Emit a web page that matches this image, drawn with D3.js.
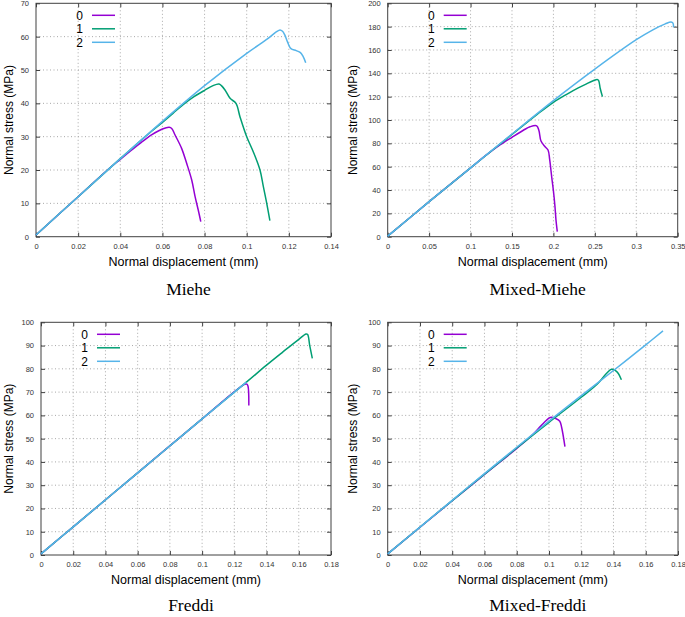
<!DOCTYPE html>
<html><head><meta charset="utf-8">
<script src="https://cdn.jsdelivr.net/npm/d3@7"></script>
<style>body{margin:0;background:#fff}svg{display:block}</style>
</head><body>
<svg id="c" width="685" height="617"></svg>
<script>
// ---- data ----
const seriesNames = ["0", "1", "2"];
const seriesColors = ["#9400d3", "#009e73", "#56b4e9"];

const mieheXTicks = [0, 0.02, 0.04, 0.06, 0.08, 0.1, 0.12, 0.14];
const mieheYTicks = [0, 10, 20, 30, 40, 50, 60, 70];
const miehe0 = [[0,0.5],[0.02,12],[0.035,20.6],[0.04,23.2],[0.045,25.8],[0.05,28.3],[0.055,30.6],[0.06,32.3],[0.0632,32.8],[0.0645,32.4],[0.066,30.5],[0.0691,26.5],[0.0715,22],[0.0739,17],[0.0755,12],[0.077,8],[0.0782,4.5]];
const miehe1 = [[0,0.5],[0.02,12],[0.04,23.4],[0.05,29],[0.055,31.7],[0.06,34.3],[0.065,37],[0.07,39.7],[0.075,42],[0.08,43.9],[0.084,45.3],[0.0868,45.8],[0.088,45.3],[0.0897,44],[0.0921,41.5],[0.0949,40],[0.0968,36],[0.1,30],[0.1031,25.5],[0.1063,20],[0.1079,15],[0.1095,10],[0.111,4.8]];
const miehe2 = [[0,0.5],[0.02,12],[0.04,23.4],[0.06,34.6],[0.08,45.3],[0.1,55],[0.11,59.4],[0.114,61.4],[0.1158,62],[0.117,61.6],[0.118,60.6],[0.1195,58.2],[0.121,56.4],[0.1235,55.8],[0.1255,55.2],[0.1268,54],[0.128,52.2]];

const mixMieheXTicks = [0, 0.05, 0.1, 0.15, 0.2, 0.25, 0.3, 0.35];
const mixMieheYTicks = [0, 20, 40, 60, 80, 100, 120, 140, 160, 180, 200];
const mixMiehe0 = [[0,0.5],[0.05,30],[0.1,59],[0.12,70.5],[0.1355,78.6],[0.15,85.2],[0.1637,91.2],[0.1718,94.2],[0.1798,95],[0.1825,91],[0.185,82],[0.1899,77.1],[0.1935,74.3],[0.1955,66],[0.1979,51.4],[0.1999,40],[0.2019,25.7],[0.2031,14.3],[0.2047,4.3]];
const mixMiehe1 = [[0,0.5],[0.05,30],[0.1,59],[0.15,87.6],[0.18,104.6],[0.2,115.2],[0.216,122],[0.23,127.5],[0.24,131],[0.248,133.6],[0.2528,134.8],[0.2545,134],[0.2565,127],[0.2592,120]];
const mixMiehe2 = [[0,0.5],[0.05,30],[0.1,59],[0.15,88],[0.2,116.6],[0.25,143.6],[0.3,168.8],[0.32,177.3],[0.335,182.4],[0.342,184],[0.3443,183],[0.345,179.5]];

const freddiXTicks = [0, 0.02, 0.04, 0.06, 0.08, 0.1, 0.12, 0.14, 0.16, 0.18];
const freddiYTicks = [0, 10, 20, 30, 40, 50, 60, 70, 80, 90, 100];
const freddi0 = [[0,0.5],[0.02,12.1],[0.06,35.3],[0.1,58.5],[0.1265,73.4],[0.1278,73.4],[0.1285,72.5],[0.129,64.2]];
const freddi1 = [[0,0.5],[0.02,12.1],[0.06,35.3],[0.1,58.5],[0.1275,74.3],[0.14,81.6],[0.15,87.2],[0.16,92.7],[0.1645,95],[0.1655,94.8],[0.1668,90],[0.1684,84.5]];
const freddi2 = [[0,0.5],[0.02,12.1],[0.06,35.3],[0.1,58.5],[0.1275,74.3]];

const mixFreddiXTicks = [0, 0.02, 0.04, 0.06, 0.08, 0.1, 0.12, 0.14, 0.16, 0.18];
const mixFreddiYTicks = [0, 10, 20, 30, 40, 50, 60, 70, 80, 90, 100];
const mixFreddi0 = [[0,0.5],[0.04,23.3],[0.06,34.6],[0.08,45.8],[0.09,51.8],[0.095,55.5],[0.1,58.8],[0.1015,59.2],[0.104,58.7],[0.1067,57.5],[0.1078,55],[0.1099,46.6]];
const mixFreddi1 = [[0,0.5],[0.04,23.4],[0.08,46],[0.1,57],[0.12,67.8],[0.13,73.5],[0.1356,78],[0.1387,79.8],[0.141,79.3],[0.143,78],[0.1449,75.3]];
const mixFreddi2 = [[0,0.5],[0.02,12],[0.04,23.5],[0.06,35],[0.08,46.3],[0.1,57.5],[0.12,68.5],[0.14,79.3],[0.16,90.3],[0.1707,96.3]];

const captions = ["Miehe", "Mixed-Miehe", "Freddi", "Mixed-Freddi"];
const xTitle = "Normal displacement (mm)";
const yTitle = "Normal stress (MPa)";

// ---- layout ----
const panels = [
  {box:[36,331,3.3,236.7], xt:mieheXTicks, yt:mieheYTicks, s:[miehe0,miehe1,miehe2], cap:captions[0], capY:295, yLabX:12.5},
  {box:[387.7,677.7,3.3,236.7], xt:mixMieheXTicks, yt:mixMieheYTicks, s:[mixMiehe0,mixMiehe1,mixMiehe2], cap:captions[1], capY:295, yLabX:357},
  {box:[41,331,322.3,555], xt:freddiXTicks, yt:freddiYTicks, s:[freddi0,freddi1,freddi2], cap:captions[2], capY:611, yLabX:12.5},
  {box:[387.7,678,322.3,555], xt:mixFreddiXTicks, yt:mixFreddiYTicks, s:[mixFreddi0,mixFreddi1,mixFreddi2], cap:captions[3], capY:611, yLabX:357}
];

const svg = d3.select("#c");
const axisColor = "#404040";

panels.forEach(p => {
  const [L,R,T,B] = p.box;
  const x = d3.scaleLinear().domain([p.xt[0], p.xt[p.xt.length-1]]).range([L,R]);
  const y = d3.scaleLinear().domain([p.yt[0], p.yt[p.yt.length-1]]).range([B,T]);
  const g = svg.append("g");

  // grid
  g.append("g").selectAll("line").data(p.xt.slice(1,-1)).join("line")
    .attr("x1", d=>x(d)).attr("x2", d=>x(d)).attr("y1", T).attr("y2", B)
    .attr("stroke","#a8a8a8").attr("stroke-width",1).attr("stroke-dasharray","1,2.5");
  g.append("g").selectAll("line").data(p.yt.slice(1,-1)).join("line")
    .attr("x1", L).attr("x2", R).attr("y1", d=>y(d)).attr("y2", d=>y(d))
    .attr("stroke","#a8a8a8").attr("stroke-width",1).attr("stroke-dasharray","1,2.5");

  // axes (ticks inward, mirrored)
  const fmt = d => String(d);
  const style = sel => {
    sel.select(".domain").remove();
    sel.selectAll(".tick line").attr("stroke", axisColor);
    sel.selectAll(".tick text").attr("fill","#333").style("font-family","'Liberation Sans', Arial, sans-serif").style("font-size","7.5px");
  };
  g.append("g").attr("transform",`translate(0,${B})`)
    .call(d3.axisBottom(x).tickValues(p.xt).tickFormat(fmt).tickSizeInner(-4).tickSizeOuter(0).tickPadding(7))
    .call(style);
  g.append("g").attr("transform",`translate(0,${T})`)
    .call(d3.axisTop(x).tickValues(p.xt).tickFormat("").tickSizeInner(-4).tickSizeOuter(0))
    .call(style);
  g.append("g").attr("transform",`translate(${L},0)`)
    .call(d3.axisLeft(y).tickValues(p.yt).tickFormat(fmt).tickSizeInner(-4).tickSizeOuter(0).tickPadding(7))
    .call(style);
  g.append("g").attr("transform",`translate(${R},0)`)
    .call(d3.axisRight(y).tickValues(p.yt).tickFormat("").tickSizeInner(-4).tickSizeOuter(0))
    .call(style);

  // frame
  g.append("rect").attr("x",L).attr("y",T).attr("width",R-L).attr("height",B-T)
    .attr("fill","none").attr("stroke",axisColor).attr("stroke-width",1);

  // curves
  const line = d3.line().x(d=>x(d[0])).y(d=>y(d[1])).curve(d3.curveCatmullRom.alpha(0.5));
  p.s.forEach((s,i) => {
    g.append("path").datum(s).attr("d", line)
      .attr("fill","none").attr("stroke",seriesColors[i]).attr("stroke-width",1.5)
      .attr("stroke-linejoin","round");
  });

  // legend
  seriesNames.forEach((n,i) => {
    const ly = T + 12 + i*13.5;
    g.append("text").attr("x", L+47).attr("y", ly).attr("dy","0.35em")
      .attr("text-anchor","end").style("font-family","'Liberation Sans', Arial, sans-serif")
      .style("font-size","12px").text(n);
    g.append("line").attr("x1",L+56).attr("x2",L+79).attr("y1",ly).attr("y2",ly)
      .attr("stroke",seriesColors[i]).attr("stroke-width",1.5);
  });

  // axis titles
  g.append("text").attr("x",(L+R)/2).attr("y",B+29).attr("text-anchor","middle")
    .style("font-family","'Liberation Sans', Arial, sans-serif").style("font-size","12.5px").text(xTitle);
  g.append("text").attr("transform",`translate(${p.yLabX},${(T+B)/2}) rotate(-90)`).attr("text-anchor","middle")
    .style("font-family","'Liberation Sans', Arial, sans-serif").style("font-size","12px").text(yTitle);

  // caption
  g.append("text").attr("x",(L+R)/2 + 5).attr("y",p.capY).attr("text-anchor","middle")
    .style("font-family","'Liberation Serif', 'DejaVu Serif', serif").style("font-size","17.5px").text(p.cap);
});
</script>
</body></html>
